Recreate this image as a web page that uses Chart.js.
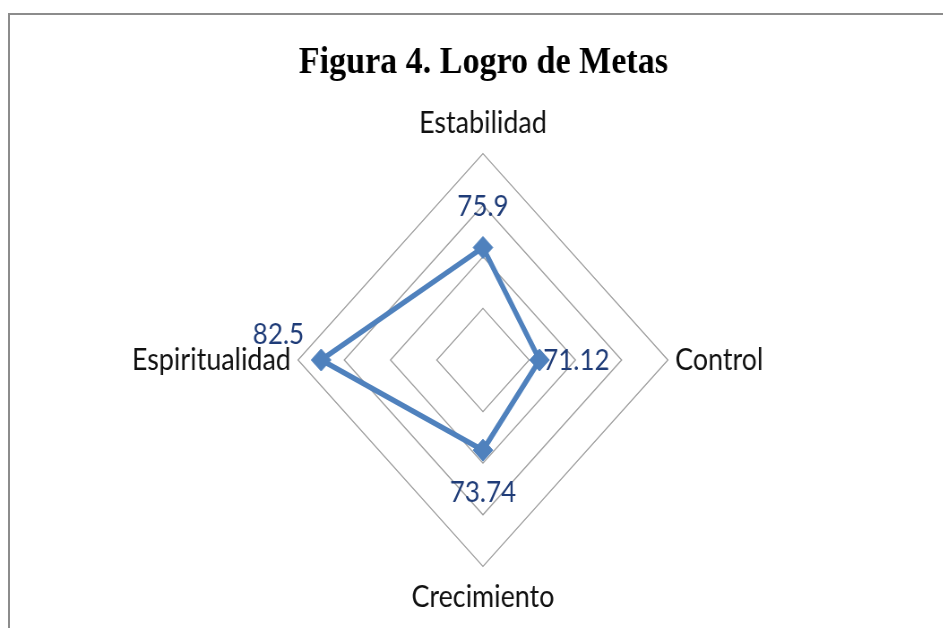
<!DOCTYPE html>
<html>
<head>
<meta charset="utf-8">
<title>Figura 4. Logro de Metas</title>
<script src="https://cdn.jsdelivr.net/npm/chart.js@4"></script>
<style>
  html, body { margin: 0; padding: 0; background: #fff; overflow: hidden; }
  body { width: 943px; height: 628px; position: relative; }
  #frame {
    position: absolute; left: 8px; top: 13px; width: 1000px; height: 700px;
    border: 2px solid #8c8c8c; box-sizing: border-box;
  }
  /* the reference is squeezed sideways, so the canvas is too */
  #myChart {
    position: absolute; left: 0; top: 0;
    transform: scaleX(0.896); transform-origin: 0 0;
  }
</style>
</head>
<body>
<div id="frame"></div>
<canvas id="myChart" width="1053" height="628"></canvas>
<script>
// chart values
const categories = ['Estabilidad', 'Control', 'Crecimiento', 'Espiritualidad'];
const logro = [75.9, 71.12, 73.74, 82.5];
// radial axis: 65 at the centre, rings every 5 up to 85
const scaleMin = 65;
const scaleMax = 85;
const scaleStep = 5;

let blue = '#4f81bd';
let navy = '#1f3c78';

// value labels next to each marker (Chart.js v4 has no built-in data labels)
let valueLabels = {
    id: 'valueLabels',
    afterDatasetsDraw(chart, args, opts) {
        let ctx = chart.ctx;
        let meta = chart.getDatasetMeta(0);
        let values = chart.data.datasets[0].data;
        ctx.save();
        ctx.font = opts.font;
        ctx.fillStyle = opts.color;
        ctx.textBaseline = 'middle';
        meta.data.forEach(function (pt, i) {
            let o = opts.offsets[i];
            ctx.textAlign = o.align;
            ctx.fillText(String(values[i]), pt.x + o.dx, pt.y + o.dy);
        });
        ctx.restore();
    }
};

let canvas = document.getElementById('myChart');
let ctx = canvas.getContext('2d');

let myRadar = new Chart(ctx, {
    type: 'radar',
    data: {
        labels: categories,
        datasets: [{
            label: 'Logro de Metas',
            data: logro,
            borderColor: blue,
            backgroundColor: 'rgba(0,0,0,0)',
            borderWidth: 5.5,
            fill: false,
            pointStyle: 'rectRot',
            pointRadius: 11,
            pointBorderWidth: 1,
            pointBackgroundColor: blue,
            pointBorderColor: blue
        }]
    },
    options: {
        responsive: false,
        animation: false,
        devicePixelRatio: 1,
        layout: { padding: { top: 10, bottom: 7, left: 26, right: 0 } },
        plugins: {
            legend: { display: false },
            tooltip: { enabled: false },
            title: {
                display: true,
                text: 'Figura 4. Logro de Metas',
                color: '#000',
                font: { family: '"Liberation Serif", "Times New Roman", serif', size: 38, weight: 'bold', lineHeight: 1.2 },
                padding: { top: 30, bottom: 15 }
            },
            valueLabels: {
                font: '29px Lato, "Open Sans", sans-serif',
                color: navy,
                offsets: [
                    { dx: 0, dy: -41, align: 'center' },
                    { dx: 4, dy: 1, align: 'left' },
                    { dx: 0, dy: 42, align: 'center' },
                    { dx: -19, dy: -25, align: 'right' }
                ]
            }
        },
        scales: {
            r: {
                min: scaleMin,
                max: scaleMax,
                ticks: { stepSize: scaleStep, display: false },
                angleLines: { display: false },
                grid: { color: '#9f9f9f', lineWidth: 1.3, circular: false },
                pointLabels: {
                    color: '#111',
                    padding: 8,
                    font: { family: 'Lato, "Open Sans", sans-serif', size: 30, lineHeight: 1.5 }
                }
            }
        }
    },
    plugins: [valueLabels]
});
</script>
</body>
</html>
